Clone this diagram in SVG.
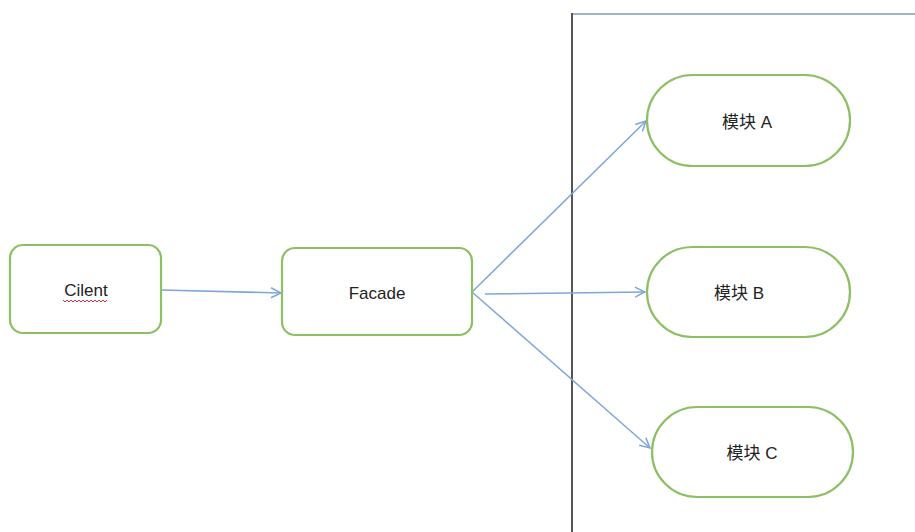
<svg xmlns="http://www.w3.org/2000/svg" width="915" height="532" viewBox="0 0 915 532">
<defs>
<style>
.node{fill:#fff;stroke:#8cc063;stroke-width:2.2}
.lbl{font-family:"Liberation Sans","Noto Sans CJK SC",sans-serif;font-size:17px;fill:#222;text-anchor:middle;dominant-baseline:central}
.conn{stroke:#7ea6d8;stroke-width:1.5;fill:none;marker-end:url(#ah)}
</style>
<marker id="ah" viewBox="0 0 12 12" refX="11" refY="6" markerWidth="12" markerHeight="12" markerUnits="userSpaceOnUse" orient="auto">
<path d="M1,1 L11,6 L1,11" fill="none" stroke="#7ea6d8" stroke-width="1.5"/>
</marker>
</defs>
<rect width="915" height="532" fill="#fff"/>
<g id="boundary">
<line x1="572" y1="14" x2="915" y2="14" stroke="#9db3c9" stroke-width="2"/>
<line x1="572" y1="13" x2="572" y2="532" stroke="#555" stroke-width="2"/>
</g>
<g id="connectors">
<line class="conn" x1="161" y1="290" x2="281" y2="293"/>
<line class="conn" x1="472" y1="292" x2="646" y2="121"/>
<line class="conn" x1="485" y1="294" x2="645" y2="292"/>
<line class="conn" x1="472" y1="292" x2="650" y2="448"/>
</g>
<g id="cilent">
<rect class="node" x="10" y="245" width="151" height="88" rx="13"/>
<text class="lbl" x="86" y="290">Cilent</text>
<path d="M63,300 l2,2 l2,-2 l2,2 l2,-2 l2,2 l2,-2 l2,2 l2,-2 l2,2 l2,-2 l2,2 l2,-2 l2,2 l2,-2 l2,2 l2,-2 l2,2 l2,-2 l2,2 l2,-2 l2,2 l2,-2" fill="none" stroke="#d0384a" stroke-width="1"/>
</g>
<g id="facade">
<rect class="node" x="282" y="248" width="190" height="87" rx="13"/>
<text class="lbl" x="377" y="293">Facade</text>
</g>
<g id="moduleA">
<rect class="node" x="647" y="75" width="203" height="91" rx="45.5"/>
<text class="lbl" x="747" y="122">模块 A</text>
</g>
<g id="moduleB">
<rect class="node" x="647" y="247" width="203" height="90" rx="45"/>
<text class="lbl" x="739" y="293">模块 B</text>
</g>
<g id="moduleC">
<rect class="node" x="652" y="407" width="201" height="90" rx="45"/>
<text class="lbl" x="752" y="453">模块 C</text>
</g>
</svg>
